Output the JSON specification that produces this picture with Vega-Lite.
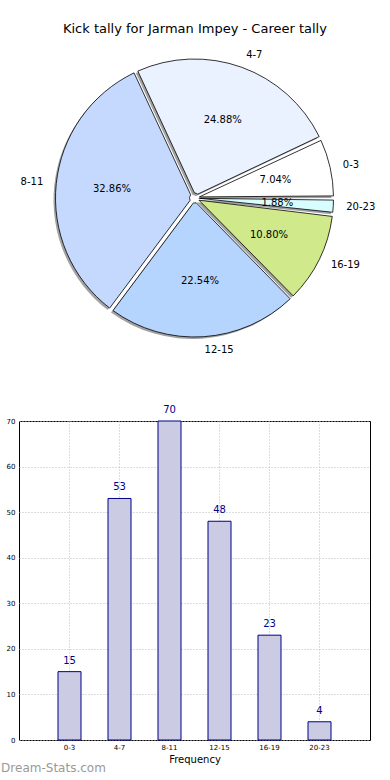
{
  "$schema": "https://vega.github.io/schema/vega-lite/v6.json",
  "padding": {"left": 0, "top": 23, "right": 0, "bottom": 0},
  "background": "white",
  "title": {"text": "Kick tally for Jarman Impey - Career tally", "fontSize": 13, "fontWeight": "normal", "font": "DejaVu Sans", "color": "black", "anchor": "middle", "offset": 12, "dx": 7},
  "config": {"font": "DejaVu Sans", "view": {"stroke": null}},
  "datasets": {
    "kicks": [
      {"i": 1, "k": "0-3", "count": 15, "pct": "7.04%"},
      {"i": 2, "k": "4-7", "count": 53, "pct": "24.88%"},
      {"i": 3, "k": "8-11", "count": 70, "pct": "32.86%"},
      {"i": 4, "k": "12-15", "count": 48, "pct": "22.54%"},
      {"i": 5, "k": "16-19", "count": 23, "pct": "10.80%"},
      {"i": 6, "k": "20-23", "count": 4, "pct": "1.88%"}
    ]
  },
  "spacing": 49,
  "vconcat": [
    {
      "width": 351,
      "height": 300,
      "data": {"name": "kicks"},
      "encoding": {
        "theta": {"field": "count", "type": "quantitative", "stack": true, "scale": {"range": [1.5707963, -4.7123890]}},
        "order": {"field": "i", "type": "quantitative"}
      },
      "layer": [
        {
          "mark": {"type": "arc", "radius": 139, "radius2": 5, "padAngle": 0.03, "fill": "#555", "opacity": 0.55, "xOffset": -2, "yOffset": 2}
        },
        {
          "mark": {"type": "arc", "radius": 139, "radius2": 5, "padAngle": 0.03, "stroke": "black", "strokeWidth": 0.8},
          "encoding": {
            "color": {"field": "k", "type": "nominal", "legend": null,
              "scale": {"domain": ["0-3", "4-7", "8-11", "12-15", "16-19", "20-23"],
                        "range": ["#ffffff", "#eaf1ff", "#c5d9ff", "#b5d5ff", "#cfe98b", "#d7fdff"]}}
          }
        },
        {
          "mark": {"type": "text", "radius": 83, "fontSize": 10, "color": "black"},
          "encoding": {"text": {"field": "pct"}}
        },
        {
          "mark": {"type": "text", "radius": 152, "fontSize": 10, "align": "left", "color": "black"},
          "encoding": {"text": {"condition": {"test": "datum.k == '8-11'", "value": ""}, "field": "k", "type": "nominal"}}
        },
        {
          "mark": {"type": "text", "radius": 152, "fontSize": 10, "align": "right", "color": "black"},
          "encoding": {"text": {"condition": {"test": "datum.k != '8-11'", "value": ""}, "field": "k", "type": "nominal"}}
        }
      ]
    },
    {
      "width": 351,
      "height": 319,
      "view": {"stroke": "black", "strokeWidth": 1},
      "title": {"text": "Dream-Stats.com", "orient": "bottom", "anchor": "start", "frame": "bounds", "fontSize": 12, "fontWeight": "normal", "color": "#999999", "offset": -1, "dx": -5},
      "data": {"name": "kicks"},
      "encoding": {
        "x": {"field": "k", "type": "nominal", "sort": ["0-3", "4-7", "8-11", "12-15", "16-19", "20-23"],
          "scale": {"paddingInner": 0.54, "paddingOuter": 0.78},
          "axis": {"title": "Frequency", "titleFontSize": 10, "titleFontWeight": "normal", "titleColor": "black", "titlePadding": 4,
                   "labelFontSize": 7, "labelColor": "black", "labelAngle": 0, "labelPadding": 3, "domain": false, "ticks": false,
                   "grid": true, "gridDash": [1, 2], "gridColor": "#bbbbbb", "bandPosition": 0.5}},
        "y": {"field": "count", "type": "quantitative", "scale": {"domain": [0, 70], "nice": false},
          "axis": {"title": null, "values": [0, 10, 20, 30, 40, 50, 60, 70], "labelFontSize": 7, "labelColor": "black", "labelPadding": 4,
                   "domain": false, "ticks": false, "grid": true, "gridDash": [1, 2], "gridColor": "#bbbbbb"}}
      },
      "layer": [
        {"mark": {"type": "bar", "fill": "#cbcbe3", "stroke": "#000088", "strokeWidth": 1}},
        {"mark": {"type": "text", "dy": -6, "baseline": "bottom", "fontSize": 10, "color": "#000088"},
         "encoding": {"text": {"field": "count", "type": "quantitative"}}}
      ]
    }
  ]
}
